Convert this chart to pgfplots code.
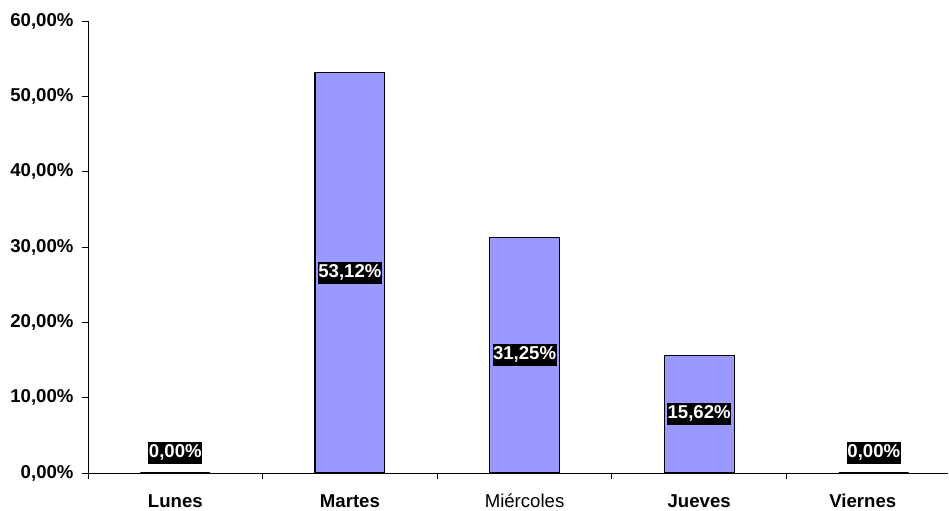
\documentclass[border=0pt]{standalone}
\usepackage{fontspec}
\setmainfont{Liberation Sans}
\usepackage{pgfplots}
\pgfplotsset{compat=1.18}
\definecolor{barblue}{HTML}{9999FF}
\newcommand{\lblfont}{\fontsize{18.6bp}{22bp}\selectfont\bfseries}
\begin{document}
\begin{tikzpicture}
\useasboundingbox (0,0) rectangle (949bp,511bp);
\begin{axis}[
  at={(88bp,38bp)}, anchor=south west,
  scale only axis, width=860bp, height=452bp,
  xmin=-0.5, xmax=4.425, ymin=0, ymax=60,
  axis lines*=left,
  axis line style={line width=0.8bp, black},
  tick align=outside,
  major tick length=6bp,
  tick style={line width=0.8bp, black},
  xtick={-0.5,0.5,1.5,2.5,3.5},
  xticklabels={},
  extra x ticks={0,1,2,3,4},
  extra x tick labels={Lunes,Martes,{\mdseries Miércoles},Jueves,{\hspace*{-22bp}Viernes}},
  extra x tick style={major tick length=0pt, xticklabel style={anchor=base, yshift=-35bp}},
  ytick={0,10,...,60},
  yticklabels={{0,00\%},{10,00\%},{20,00\%},{30,00\%},{40,00\%},{50,00\%},{60,00\%}},
  yticklabel style={anchor=east, xshift=-5bp},
  tick label style={font=\lblfont},
  ybar, bar width=0.4,
]
\addplot[fill=barblue, draw=black, line width=1.2bp,
  nodes near coords={\pgfmathprintnumber[fixed, fixed zerofill, precision=2, use comma, assume math mode=true]{\pgfplotspointmeta}\%},
  visualization depends on={rawy \as \rawy},
  every node near coord/.append style={fill=black, text=white, font=\lblfont,
    inner xsep=0.5bp, inner ysep=2bp, text height=13.5bp, text depth=4.5bp,
    anchor=center, yshift={(\rawy==0)*20.08 - \rawy*3.781}},
] coordinates {(0,0) (1,53.12) (2,31.25) (3,15.62) (4,0)};
\end{axis}
\end{tikzpicture}
\end{document}
